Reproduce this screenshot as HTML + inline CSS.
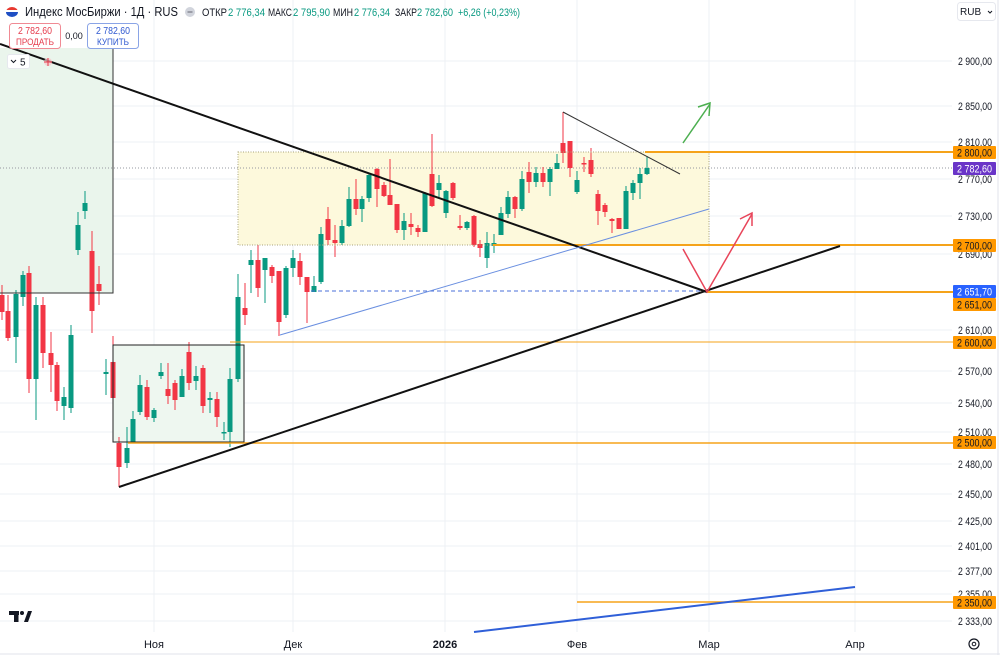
<!DOCTYPE html>
<html><head><meta charset="utf-8"><style>
html,body{margin:0;padding:0;background:#fff;}
svg{display:block;font-family:"Liberation Sans","Noto Sans CJK JP",sans-serif;}
</style></head><body>
<svg width="1000" height="655" viewBox="0 0 1000 655" xmlns="http://www.w3.org/2000/svg">
<rect width="1000" height="655" fill="#fff"/>
<!-- grid -->
<g stroke="#eef0f4" stroke-width="1">
<line x1="0" y1="61" x2="952" y2="61"/><line x1="0" y1="106" x2="952" y2="106"/><line x1="0" y1="142" x2="952" y2="142"/>
<line x1="0" y1="179" x2="952" y2="179"/><line x1="0" y1="216" x2="952" y2="216"/><line x1="0" y1="254" x2="952" y2="254"/>
<line x1="0" y1="330" x2="952" y2="330"/><line x1="0" y1="371" x2="952" y2="371"/><line x1="0" y1="403" x2="952" y2="403"/>
<line x1="0" y1="432" x2="952" y2="432"/><line x1="0" y1="464" x2="952" y2="464"/><line x1="0" y1="494" x2="952" y2="494"/>
<line x1="0" y1="521" x2="952" y2="521"/><line x1="0" y1="546" x2="952" y2="546"/><line x1="0" y1="571" x2="952" y2="571"/>
<line x1="0" y1="594" x2="952" y2="594"/><line x1="0" y1="621" x2="952" y2="621"/>
<line x1="154" y1="0" x2="154" y2="632"/><line x1="293" y1="0" x2="293" y2="632"/><line x1="445" y1="0" x2="445" y2="632"/>
<line x1="577" y1="0" x2="577" y2="632"/><line x1="709" y1="0" x2="709" y2="632"/><line x1="855" y1="0" x2="855" y2="632"/>
</g>
<line x1="0" y1="654" x2="1000" y2="654" stroke="#e0e3eb"/>
<line x1="998" y1="0" x2="998" y2="655" stroke="#e0e3eb"/>
<!-- box fills -->
<rect x="0" y="48" width="113" height="245" fill="#eaf5ec"/>
<rect x="113" y="345" width="131" height="97" fill="#eef7f0"/>
<rect x="238" y="152" width="471" height="93" fill="#fdf9dc"/>
<!-- price line -->
<line x1="0" y1="168" x2="953" y2="168" stroke="#9598a1" stroke-width="1" stroke-dasharray="1,2"/>
<!-- candles green -->
<g stroke="#089981" stroke-width="1">
<line x1="16" y1="290" x2="16" y2="363"/><line x1="23" y1="271" x2="23" y2="306"/><line x1="36" y1="297" x2="36" y2="420"/>
<line x1="64" y1="387" x2="64" y2="420"/><line x1="71" y1="325" x2="71" y2="413"/><line x1="78" y1="212" x2="78" y2="255"/>
<line x1="85" y1="191" x2="85" y2="219"/><line x1="106" y1="359" x2="106" y2="395"/><line x1="127" y1="427" x2="127" y2="468"/>
<line x1="133" y1="411" x2="133" y2="442"/><line x1="140" y1="375" x2="140" y2="415"/><line x1="154" y1="408" x2="154" y2="422"/>
<line x1="161" y1="363" x2="161" y2="379"/><line x1="182" y1="369" x2="182" y2="397"/><line x1="196" y1="366" x2="196" y2="390"/>
<line x1="210" y1="392" x2="210" y2="413"/><line x1="224" y1="422" x2="224" y2="440"/><line x1="230" y1="368" x2="230" y2="447"/>
<line x1="238" y1="274" x2="238" y2="382"/><line x1="251" y1="250" x2="251" y2="293"/><line x1="265" y1="258" x2="265" y2="303"/>
<line x1="286" y1="266" x2="286" y2="318"/><line x1="293" y1="250" x2="293" y2="277"/><line x1="314" y1="276" x2="314" y2="292"/>
<line x1="321" y1="227" x2="321" y2="284"/><line x1="342" y1="220" x2="342" y2="245"/><line x1="349" y1="187" x2="349" y2="227"/>
<line x1="362" y1="196" x2="362" y2="222"/><line x1="369" y1="173" x2="369" y2="202"/><line x1="404" y1="213" x2="404" y2="240"/>
<line x1="425" y1="192" x2="425" y2="232"/><line x1="439" y1="175" x2="439" y2="197"/><line x1="446" y1="190" x2="446" y2="218"/>
<line x1="467" y1="221" x2="467" y2="230"/><line x1="487" y1="232" x2="487" y2="268"/><line x1="494" y1="234" x2="494" y2="253"/>
<line x1="501" y1="207" x2="501" y2="235"/><line x1="508" y1="191" x2="508" y2="218"/><line x1="522" y1="171" x2="522" y2="211"/>
<line x1="536" y1="167" x2="536" y2="187"/><line x1="550" y1="167" x2="550" y2="196"/><line x1="557" y1="154" x2="557" y2="169"/>
<line x1="577" y1="171" x2="577" y2="194"/><line x1="626" y1="186" x2="626" y2="229"/><line x1="633" y1="180" x2="633" y2="200"/>
<line x1="640" y1="168" x2="640" y2="199"/><line x1="647" y1="156" x2="647" y2="175"/>
</g>
<g fill="#089981">
<rect x="13.5" y="294" width="5" height="43"/><rect x="20.5" y="275" width="5" height="22"/><rect x="33.5" y="305" width="5" height="74"/>
<rect x="61.5" y="397" width="5" height="9"/><rect x="68.5" y="335" width="5" height="73"/><rect x="75.5" y="225" width="5" height="25"/>
<rect x="82.5" y="203" width="5" height="8"/><rect x="103.5" y="372" width="5" height="2"/><rect x="124.5" y="448" width="5" height="15"/>
<rect x="130.5" y="419" width="5" height="23"/><rect x="137.5" y="385" width="5" height="27"/><rect x="151.5" y="410" width="5" height="8"/>
<rect x="158.5" y="372" width="5" height="4"/><rect x="179.5" y="376" width="5" height="21"/><rect x="193.5" y="376" width="5" height="5"/>
<rect x="207.5" y="398" width="5" height="2"/><rect x="221.5" y="432" width="5" height="1.5"/><rect x="227.5" y="379" width="5" height="53"/>
<rect x="235.5" y="297" width="5" height="82"/><rect x="248.5" y="260" width="5" height="5"/><rect x="262.5" y="258" width="5" height="12"/>
<rect x="283.5" y="268" width="5" height="47"/><rect x="290.5" y="258" width="5" height="10"/><rect x="311.5" y="286" width="5" height="6"/>
<rect x="318.5" y="234" width="5" height="48"/><rect x="339.5" y="226" width="5" height="17"/><rect x="346.5" y="199" width="5" height="27"/>
<rect x="359.5" y="199" width="5" height="10"/><rect x="366.5" y="175" width="5" height="23"/><rect x="401.5" y="221" width="5" height="9"/>
<rect x="422.5" y="193" width="5" height="39"/><rect x="436.5" y="183" width="5" height="7"/><rect x="443.5" y="191" width="5" height="22"/>
<rect x="464.5" y="222" width="5" height="6"/><rect x="484.5" y="243" width="5" height="15"/><rect x="491.5" y="243" width="5" height="3"/>
<rect x="498.5" y="213" width="5" height="22"/><rect x="505.5" y="197" width="5" height="17"/><rect x="519.5" y="179" width="5" height="30"/>
<rect x="533.5" y="173" width="5" height="9"/><rect x="547.5" y="169" width="5" height="13"/><rect x="554.5" y="163" width="5" height="6"/>
<rect x="574.5" y="180" width="5" height="12"/><rect x="623.5" y="191" width="5" height="38"/><rect x="630.5" y="183" width="5" height="10"/>
<rect x="637.5" y="174" width="5" height="9"/><rect x="644.5" y="168" width="5" height="6"/>
</g>
<!-- candles red -->
<g stroke="#f23645" stroke-width="1">
<line x1="2" y1="285" x2="2" y2="320"/><line x1="8" y1="295" x2="8" y2="341"/><line x1="29" y1="266" x2="29" y2="393"/>
<line x1="43" y1="297" x2="43" y2="368"/><line x1="51" y1="332" x2="51" y2="392"/><line x1="57" y1="362" x2="57" y2="411"/>
<line x1="92" y1="231" x2="92" y2="333"/><line x1="99" y1="266" x2="99" y2="305"/><line x1="113" y1="336" x2="113" y2="400"/>
<line x1="119" y1="437" x2="119" y2="487"/><line x1="147" y1="380" x2="147" y2="420"/><line x1="168" y1="363" x2="168" y2="404"/>
<line x1="175" y1="380" x2="175" y2="410"/><line x1="189" y1="342" x2="189" y2="390"/><line x1="203" y1="365" x2="203" y2="413"/>
<line x1="217" y1="392" x2="217" y2="427"/><line x1="245" y1="283" x2="245" y2="325"/><line x1="258" y1="245" x2="258" y2="297"/>
<line x1="272" y1="265" x2="272" y2="283"/><line x1="279" y1="271" x2="279" y2="336"/><line x1="300" y1="253" x2="300" y2="285"/>
<line x1="307" y1="277" x2="307" y2="323"/><line x1="328" y1="207" x2="328" y2="245"/><line x1="335" y1="225" x2="335" y2="257"/>
<line x1="356" y1="179" x2="356" y2="215"/><line x1="377" y1="168" x2="377" y2="207"/><line x1="384" y1="182" x2="384" y2="197"/>
<line x1="390" y1="159" x2="390" y2="205"/><line x1="397" y1="204" x2="397" y2="233"/><line x1="411" y1="213" x2="411" y2="235"/>
<line x1="418" y1="225" x2="418" y2="237"/><line x1="432" y1="134" x2="432" y2="207"/><line x1="453" y1="182" x2="453" y2="200"/>
<line x1="460" y1="215" x2="460" y2="230"/><line x1="474" y1="215" x2="474" y2="247"/><line x1="480" y1="240" x2="480" y2="257"/>
<line x1="515" y1="196" x2="515" y2="218"/><line x1="529" y1="162" x2="529" y2="193"/><line x1="543" y1="167" x2="543" y2="187"/>
<line x1="563" y1="112" x2="563" y2="163"/><line x1="570" y1="141" x2="570" y2="177"/><line x1="584" y1="157" x2="584" y2="172"/>
<line x1="591" y1="148" x2="591" y2="177"/><line x1="598" y1="190" x2="598" y2="225"/><line x1="605" y1="203" x2="605" y2="217"/>
<line x1="612" y1="218" x2="612" y2="233"/><line x1="619" y1="218" x2="619" y2="229"/>
</g>
<g fill="#f23645">
<rect x="-0.5" y="295" width="5" height="17"/><rect x="5.5" y="311" width="5" height="27"/><rect x="26.5" y="273" width="5" height="106"/>
<rect x="40.5" y="305" width="5" height="48"/><rect x="48.5" y="353" width="5" height="12"/><rect x="54.5" y="365" width="5" height="36"/>
<rect x="89.5" y="251" width="5" height="60"/><rect x="96.5" y="284" width="5" height="7"/><rect x="110.5" y="362" width="5" height="36"/>
<rect x="116.5" y="443" width="5" height="24"/><rect x="144.5" y="387" width="5" height="30"/><rect x="165.5" y="389" width="5" height="7"/>
<rect x="172.5" y="383" width="5" height="17"/><rect x="186.5" y="352" width="5" height="31"/><rect x="200.5" y="368" width="5" height="38"/>
<rect x="214.5" y="399" width="5" height="18"/><rect x="242.5" y="308" width="5" height="7"/><rect x="255.5" y="260" width="5" height="28"/>
<rect x="269.5" y="267" width="5" height="9"/><rect x="276.5" y="271" width="5" height="51"/><rect x="297.5" y="261" width="5" height="16"/>
<rect x="304.5" y="277" width="5" height="15"/><rect x="325.5" y="219" width="5" height="21"/><rect x="332.5" y="240" width="5" height="3"/>
<rect x="353.5" y="199" width="5" height="10"/><rect x="374.5" y="169" width="5" height="20"/><rect x="381.5" y="185" width="5" height="11"/>
<rect x="387.5" y="195" width="5" height="10"/><rect x="394.5" y="204" width="5" height="26"/><rect x="408.5" y="224" width="5" height="3"/>
<rect x="415.5" y="228" width="5" height="4"/><rect x="429.5" y="174" width="5" height="32"/><rect x="450.5" y="183" width="5" height="15"/>
<rect x="457.5" y="226" width="5" height="2"/><rect x="471.5" y="216" width="5" height="29"/><rect x="477.5" y="244" width="5" height="4"/>
<rect x="512.5" y="197" width="5" height="12"/><rect x="526.5" y="172" width="5" height="10"/><rect x="540.5" y="173" width="5" height="9"/>
<rect x="560.5" y="143" width="5" height="10"/><rect x="567.5" y="141" width="5" height="27"/><rect x="581.5" y="163" width="5" height="1.5"/>
<rect x="588.5" y="160" width="5" height="14"/><rect x="595.5" y="194" width="5" height="17"/><rect x="602.5" y="205" width="5" height="7"/>
<rect x="609.5" y="219" width="5" height="2"/><rect x="616.5" y="218" width="5" height="11"/>
</g>
<!-- box borders -->
<polyline points="113,48 113,293 0,293" fill="none" stroke="#333" stroke-width="1"/>
<rect x="113" y="345" width="131" height="97" fill="none" stroke="#222" stroke-width="1"/>
<rect x="238" y="152" width="471" height="93" fill="none" stroke="#a8a37a" stroke-width="1" stroke-dasharray="1,1.5"/>
<!-- orange levels -->
<g stroke="#f5a31a" fill="none">
<line x1="645" y1="152" x2="953" y2="152" stroke-width="2"/>
<line x1="493" y1="245" x2="953" y2="245" stroke-width="2"/>
<line x1="707" y1="292" x2="953" y2="292" stroke-width="2"/>
<line x1="230" y1="342" x2="953" y2="342" stroke-width="1"/>
<line x1="128" y1="443" x2="953" y2="443" stroke-width="1.6"/>
<line x1="577" y1="602" x2="953" y2="602" stroke-width="1.6"/>
</g>
<!-- blue dashed -->
<line x1="311" y1="291" x2="707" y2="291" stroke="#4a6fd8" stroke-width="1" stroke-dasharray="4,3"/>
<!-- black trend lines -->
<line x1="0" y1="44" x2="707" y2="292" stroke="#111" stroke-width="2"/>
<line x1="119" y1="487" x2="840" y2="246" stroke="#111" stroke-width="2"/>
<line x1="563" y1="112" x2="680" y2="174" stroke="#333" stroke-width="1"/>
<!-- blue lines -->
<line x1="280" y1="335" x2="709" y2="209" stroke="#6a8fe0" stroke-width="1"/>
<line x1="474" y1="632" x2="855" y2="587" stroke="#2f5fd8" stroke-width="2"/>
<!-- arrows -->
<g stroke="#4caf50" stroke-width="1.5" fill="none">
<line x1="683" y1="143" x2="710" y2="104"/>
<polyline points="698,107 710,103 709,116"/>
</g>
<g stroke="#e8455a" stroke-width="1.5" fill="none">
<polyline points="683,249 707,292 752,214"/>
<polyline points="740,219 752,213 752,226"/>
</g>
<!-- header -->
<path d="M6,12 a6,5 0 0 1 12,0 Z" fill="#e8392f"/>
<path d="M6,12 h12 a6,5 0 0 1 -12,0 Z" fill="#1f4fc4"/>
<rect x="6" y="10" width="12" height="2" fill="#fff"/>
<text x="25" y="16" font-size="13" fill="#131722" textLength="153" lengthAdjust="spacingAndGlyphs">Индекс МосБиржи · 1Д · RUS</text>
<circle cx="190" cy="12" r="5" fill="#d1d4dc"/>
<line x1="187.5" y1="12" x2="192.5" y2="12" stroke="#787b86" stroke-width="1.2"/>
<g font-size="11" fill="#131722">
<text x="202" y="16" textLength="25" lengthAdjust="spacingAndGlyphs">ОТКР</text>
<text x="228" y="16" fill="#089981" textLength="37" lengthAdjust="spacingAndGlyphs">2 776,34</text>
<text x="268" y="16" textLength="24" lengthAdjust="spacingAndGlyphs">МАКС</text>
<text x="293" y="16" fill="#089981" textLength="37" lengthAdjust="spacingAndGlyphs">2 795,90</text>
<text x="333" y="16" textLength="20" lengthAdjust="spacingAndGlyphs">МИН</text>
<text x="354" y="16" fill="#089981" textLength="36" lengthAdjust="spacingAndGlyphs">2 776,34</text>
<text x="395" y="16" textLength="22" lengthAdjust="spacingAndGlyphs">ЗАКР</text>
<text x="417" y="16" fill="#089981" textLength="36" lengthAdjust="spacingAndGlyphs">2 782,60</text>
<text x="458" y="16" fill="#089981" textLength="62" lengthAdjust="spacingAndGlyphs">+6,26 (+0,23%)</text>
</g>
<!-- buttons -->
<rect x="9.5" y="23.5" width="51" height="25" rx="3" fill="#fff" stroke="#f08a94"/>
<text x="35" y="34" font-size="10" fill="#e5394a" text-anchor="middle" textLength="34" lengthAdjust="spacingAndGlyphs">2 782,60</text>
<text x="35" y="45" font-size="9" fill="#e5394a" text-anchor="middle" textLength="38" lengthAdjust="spacingAndGlyphs">ПРОДАТЬ</text>
<text x="74" y="39" font-size="9" fill="#131722" text-anchor="middle">0,00</text>
<rect x="87.5" y="23.5" width="51" height="25" rx="3" fill="#fff" stroke="#8aa4e6"/>
<text x="113" y="34" font-size="10" fill="#2d57d0" text-anchor="middle" textLength="34" lengthAdjust="spacingAndGlyphs">2 782,60</text>
<text x="113" y="45" font-size="9" fill="#2d57d0" text-anchor="middle" textLength="32" lengthAdjust="spacingAndGlyphs">КУПИТЬ</text>
<rect x="7.5" y="54.5" width="22" height="14" rx="2" fill="#fff" stroke="#e6e8ee"/>
<polyline points="11,60 13.5,62.5 16,60" fill="none" stroke="#131722" stroke-width="1"/>
<text x="20" y="65.5" font-size="10" fill="#131722">5</text>
<circle cx="48" cy="62" r="4" fill="#f7c6cb" opacity="0.7"/>
<line x1="48" y1="58" x2="48" y2="66" stroke="#e5394a" stroke-width="1"/>
<line x1="44" y1="62" x2="52" y2="62" stroke="#e5394a" stroke-width="1"/>
<!-- RUB box -->
<rect x="957.5" y="2.5" width="38" height="18" rx="3" fill="#fff" stroke="#e6e8ee"/>
<text x="960" y="15" font-size="10" fill="#131722">RUB</text>
<polyline points="988,11 990,13 992,11" fill="none" stroke="#131722" stroke-width="1"/>
<!-- axis labels -->
<g font-size="11" fill="#131722">
<text x="958" y="65" textLength="34" lengthAdjust="spacingAndGlyphs">2 900,00</text>
<text x="958" y="110" textLength="34" lengthAdjust="spacingAndGlyphs">2 850,00</text>
<text x="958" y="146" textLength="34" lengthAdjust="spacingAndGlyphs">2 810,00</text>
<text x="958" y="183" textLength="34" lengthAdjust="spacingAndGlyphs">2 770,00</text>
<text x="958" y="220" textLength="34" lengthAdjust="spacingAndGlyphs">2 730,00</text>
<text x="958" y="258" textLength="34" lengthAdjust="spacingAndGlyphs">2 690,00</text>
<text x="958" y="334" textLength="34" lengthAdjust="spacingAndGlyphs">2 610,00</text>
<text x="958" y="375" textLength="34" lengthAdjust="spacingAndGlyphs">2 570,00</text>
<text x="958" y="407" textLength="34" lengthAdjust="spacingAndGlyphs">2 540,00</text>
<text x="958" y="436" textLength="34" lengthAdjust="spacingAndGlyphs">2 510,00</text>
<text x="958" y="468" textLength="34" lengthAdjust="spacingAndGlyphs">2 480,00</text>
<text x="958" y="498" textLength="34" lengthAdjust="spacingAndGlyphs">2 450,00</text>
<text x="958" y="525" textLength="34" lengthAdjust="spacingAndGlyphs">2 425,00</text>
<text x="958" y="550" textLength="34" lengthAdjust="spacingAndGlyphs">2 401,00</text>
<text x="958" y="575" textLength="34" lengthAdjust="spacingAndGlyphs">2 377,00</text>
<text x="958" y="598" textLength="34" lengthAdjust="spacingAndGlyphs">2 355,00</text>
<text x="958" y="625" textLength="34" lengthAdjust="spacingAndGlyphs">2 333,00</text>
</g>
<g font-size="11">
<rect x="953" y="146" width="43" height="13" rx="1" fill="#ff9800"/>
<text x="957" y="156.5" fill="#131722" textLength="35" lengthAdjust="spacingAndGlyphs">2 800,00</text>
<rect x="953" y="162" width="43" height="13" rx="1" fill="#6a35c8"/>
<text x="957" y="172.5" fill="#fff" textLength="35" lengthAdjust="spacingAndGlyphs">2 782,60</text>
<rect x="953" y="239" width="43" height="13" rx="1" fill="#ff9800"/>
<text x="957" y="249.5" fill="#131722" textLength="35" lengthAdjust="spacingAndGlyphs">2 700,00</text>
<rect x="953" y="285" width="43" height="13" rx="1" fill="#2962ff"/>
<text x="957" y="295.5" fill="#fff" textLength="35" lengthAdjust="spacingAndGlyphs">2 651,70</text>
<rect x="953" y="298" width="43" height="13" rx="1" fill="#ff9800"/>
<text x="957" y="308.5" fill="#131722" textLength="35" lengthAdjust="spacingAndGlyphs">2 651,00</text>
<rect x="953" y="336" width="43" height="13" rx="1" fill="#ff9800"/>
<text x="957" y="346.5" fill="#131722" textLength="35" lengthAdjust="spacingAndGlyphs">2 600,00</text>
<rect x="953" y="436" width="43" height="13" rx="1" fill="#ff9800"/>
<text x="957" y="446.5" fill="#131722" textLength="35" lengthAdjust="spacingAndGlyphs">2 500,00</text>
<rect x="953" y="596" width="43" height="13" rx="1" fill="#ff9800"/>
<text x="957" y="606.5" fill="#131722" textLength="35" lengthAdjust="spacingAndGlyphs">2 350,00</text>
</g>
<!-- time axis -->
<g font-size="11" fill="#131722" text-anchor="middle">
<text x="154" y="648">Ноя</text>
<text x="293" y="648">Дек</text>
<text x="445" y="648" font-weight="bold">2026</text>
<text x="577" y="648">Фев</text>
<text x="709" y="648">Мар</text>
<text x="855" y="648">Апр</text>
</g>
<!-- gear -->
<circle cx="974" cy="644" r="5" fill="none" stroke="#131722" stroke-width="1.2"/>
<circle cx="974" cy="644" r="1.8" fill="none" stroke="#131722" stroke-width="1"/>
<!-- TV logo -->
<g fill="#131722">
<rect x="9" y="611" width="10" height="4"/>
<rect x="14" y="611" width="4.5" height="11"/>
<circle cx="22" cy="613" r="2"/>
<polygon points="24,622 28,611 32,611 28,622"/>
</g>
</svg>
</body></html>
